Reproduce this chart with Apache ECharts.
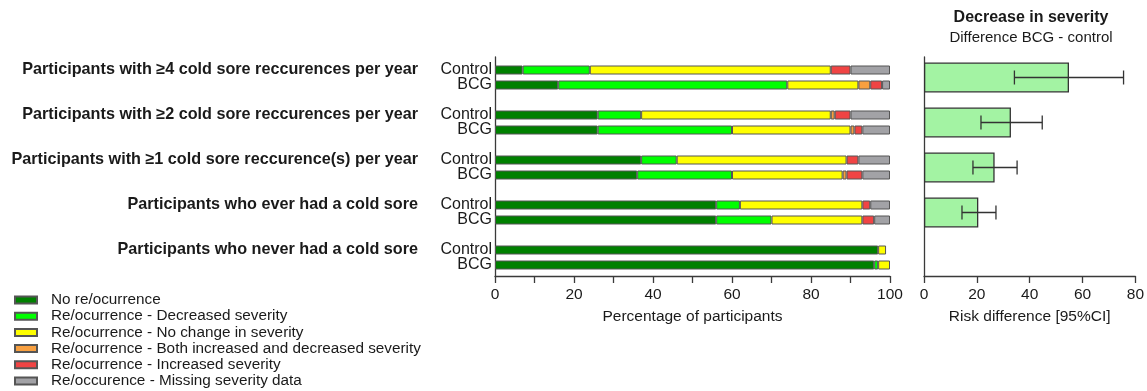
<!DOCTYPE html>
<html>
<head>
<meta charset="utf-8">
<title>Cold sore recurrence and severity: BCG vs control</title>
<script src="https://cdn.jsdelivr.net/npm/echarts@6/dist/echarts.min.js"></script>
<style>
  html, body { margin: 0; padding: 0; background: #fff; }
  #chart { width: 1147px; height: 391px; }
</style>
</head>
<body>
<div id="chart"></div>
<script>
// ---- Data -------------------------------------------------------------
const groups = [
  'Participants with ≥4 cold sore reccurences per year',
  'Participants with ≥2 cold sore reccurences per year',
  'Participants with ≥1 cold sore reccurence(s) per year',
  'Participants who ever had a cold sore',
  'Participants who never had a cold sore'
];
const arms = ['Control', 'BCG'];
const outcomes = [
  'No re/ocurrence',
  'Re/ocurrence - Decreased severity',
  'Re/ocurrence - No change in severity',
  'Re/ocurrence - Both increased and decreased severity',
  'Re/ocurrence - Increased severity',
  'Re/occurence - Missing severity data'
];

// Percentage of participants per outcome, one value per group
const noRecurControl    = [7, 26, 37, 56, 97];
const noRecurBCG        = [16, 26, 36, 56, 96];
const decreasedControl  = [17, 11, 9, 6, 0];
const decreasedBCG      = [58, 34, 24, 14, 1];
const noChangeControl   = [61, 48, 43, 31, 2];
const noChangeBCG       = [18, 30, 28, 23, 3];
const bothControl       = [0, 1, 0, 0, 0];
const bothBCG           = [3, 1, 1, 0, 0];
const increasedControl  = [5, 4, 3, 2, 0];
const increasedBCG      = [3, 2, 4, 3, 0];
const missingControl    = [10, 10, 8, 5, 0];
const missingBCG        = [2, 7, 7, 4, 0];

// Risk difference (BCG - control) in decreased severity, with 95% CI
const riskDiff = [54.2, 32.5, 26.4, 20.3, null];
const ciLow    = [33.8, 21.3, 18.3, 14.2, null];
const ciHigh   = [74.6, 44.2, 34.8, 26.9, null];

const xTicksLeft  = { min: 0, max: 100, step: 10, labelStep: 20 };
const xTicksRight = { min: 0, max: 80, step: 20 };

// ---- Styling ----------------------------------------------------------
const FONT = "'Liberation Sans', Arial, Helvetica, sans-serif";
const INK = '#1a1a1a';
const AXIS = '#3a3a3a';
const outcomeColors = ['#008000', '#00ff00', '#ffff00', '#f8a040', '#f04444', '#a2a2a6'];

const perOutcome = [
  [noRecurControl, noRecurBCG],
  [decreasedControl, decreasedBCG],
  [noChangeControl, noChangeBCG],
  [bothControl, bothBCG],
  [increasedControl, increasedBCG],
  [missingControl, missingBCG]
];

// Row layout: Control, BCG, then a blank spacer between groups
const rowKeys = [];
groups.forEach((g, gi) => {
  arms.forEach((a) => rowKeys.push(a + '|' + gi));
  if (gi < groups.length - 1) rowKeys.push('gap|' + gi);
});

function rowValues(pair) {
  return rowKeys.map((k) => {
    const [arm, gi] = k.split('|');
    const ai = arms.indexOf(arm);
    if (ai < 0) return null;
    const v = pair[ai][+gi];
    return v === 0 ? null : v;
  });
}

const barSeries = outcomes.map((name, oi) => ({
  name: name,
  type: 'bar',
  xAxisIndex: 1,
  yAxisIndex: 1,
  stack: 'share',
  barWidth: 9,
  itemStyle: { color: outcomeColors[oi], borderColor: '#555', borderWidth: 1 },
  emphasis: { disabled: true },
  data: rowValues(perOutcome[oi])
}));

const axisLineStyle = { lineStyle: { color: AXIS, width: 1.3 } };

const option = {
  animation: false,
  textStyle: { fontFamily: FONT, color: INK },
  title: {
    text: 'Decrease in severity',
    subtext: 'Difference BCG - control',
    left: 1031,
    top: 10,
    padding: 0,
    itemGap: 4,
    textAlign: 'center',
    textStyle: { fontFamily: FONT, fontSize: 16, fontWeight: 'bold', color: INK },
    subtextStyle: { fontFamily: FONT, fontSize: 15, color: INK }
  },
  legend: {
    data: outcomes,
    orient: 'vertical',
    left: 14,
    top: 292.5,
    padding: 0,
    itemWidth: 22,
    itemHeight: 7,
    itemGap: 1.2,
    icon: 'rect',
    textStyle: { fontFamily: FONT, fontSize: 15.3, color: INK, padding: [0, 0, 0, 9] }
  },
  grid: [
    // left frame (axes only)
    { left: 495, top: 57, width: 395, height: 219 },
    // left bars
    { left: 495, top: 62.5, width: 395, height: 210 },
    // right frame (axes only)
    { left: 924, top: 57, width: 214, height: 219 },
    // right bars
    { left: 924, top: 55, width: 214, height: 225 }
  ],
  xAxis: [
    {
      gridIndex: 0, type: 'value',
      min: xTicksLeft.min, max: xTicksLeft.max, interval: xTicksLeft.step,
      name: 'Percentage of participants', nameLocation: 'middle', nameGap: 33,
      nameTextStyle: { fontFamily: FONT, fontSize: 15.5, color: INK },
      axisLine: axisLineStyle,
      axisTick: { show: true, length: 7, lineStyle: { color: AXIS, width: 1.3 } },
      axisLabel: {
        margin: 11, fontFamily: FONT, fontSize: 15.5, color: INK,
        formatter: (v) => (v % xTicksLeft.labelStep === 0 ? String(v) : '')
      },
      splitLine: { show: false }
    },
    { gridIndex: 1, type: 'value', min: xTicksLeft.min, max: xTicksLeft.max, show: false },
    {
      gridIndex: 2, type: 'value',
      min: xTicksRight.min, max: xTicksRight.max, interval: xTicksRight.step,
      name: 'Risk difference [95%CI]', nameLocation: 'middle', nameGap: 33,
      nameTextStyle: { fontFamily: FONT, fontSize: 15.5, color: INK },
      axisLine: axisLineStyle,
      axisTick: { show: true, length: 7, lineStyle: { color: AXIS, width: 1.3 } },
      axisLabel: { margin: 11, fontFamily: FONT, fontSize: 15.5, color: INK },
      splitLine: { show: false }
    },
    { gridIndex: 3, type: 'value', min: xTicksRight.min, max: xTicksRight.max, show: false }
  ],
  yAxis: [
    {
      gridIndex: 0, type: 'value', min: 0, max: 1,
      axisLine: { show: true, lineStyle: { color: AXIS, width: 1.3 } },
      axisTick: { show: false }, axisLabel: { show: false }, splitLine: { show: false }
    },
    {
      gridIndex: 1, type: 'category', data: rowKeys, inverse: true,
      axisLine: { show: false }, axisTick: { show: false },
      axisLabel: {
        interval: 0, margin: 3, fontFamily: FONT, fontSize: 16, color: INK,
        formatter: (k) => { const a = k.split('|')[0]; return arms.includes(a) ? a : ''; }
      }
    },
    {
      gridIndex: 1, type: 'category', data: rowKeys, inverse: true,
      position: 'left', offset: 73,
      axisLine: { show: false }, axisTick: { show: false },
      axisLabel: {
        interval: 0, margin: 4, fontFamily: FONT, fontSize: 16.2, fontWeight: 'bold', color: INK,
        formatter: (k) => { const [a, gi] = k.split('|'); return a === arms[0] ? groups[+gi] : ''; }
      }
    },
    {
      gridIndex: 2, type: 'value', min: 0, max: 1,
      axisLine: { show: true, lineStyle: { color: AXIS, width: 1.3 } },
      axisTick: { show: false }, axisLabel: { show: false }, splitLine: { show: false }
    },
    {
      gridIndex: 3, type: 'category', data: groups, inverse: true, show: false
    }
  ],
  series: [
    ...barSeries,
    {
      name: 'Risk difference',
      type: 'bar',
      xAxisIndex: 3,
      yAxisIndex: 4,
      barWidth: 30,
      itemStyle: { color: '#a3f3a3', borderColor: '#333', borderWidth: 1.3 },
      emphasis: { disabled: true },
      data: riskDiff
    },
    {
      name: '95% CI',
      type: 'custom',
      xAxisIndex: 3,
      yAxisIndex: 4,
      z: 5,
      encode: { x: [0, 1], y: 2 },
      data: ciLow.map((lo, i) => (lo == null ? null : [lo, ciHigh[i], i])).filter((d) => d),
      renderItem: (params, api) => {
        const y = api.value(2);
        const p0 = api.coord([api.value(0), y]);
        const p1 = api.coord([api.value(1), y]);
        const cap = 7;
        const st = { stroke: '#333', lineWidth: 1.3 };
        return {
          type: 'group',
          children: [
            { type: 'line', shape: { x1: p0[0], y1: p0[1], x2: p1[0], y2: p1[1] }, style: st },
            { type: 'line', shape: { x1: p0[0], y1: p0[1] - cap, x2: p0[0], y2: p0[1] + cap }, style: st },
            { type: 'line', shape: { x1: p1[0], y1: p1[1] - cap, x2: p1[0], y2: p1[1] + cap }, style: st }
          ]
        };
      }
    }
  ]
};

const chart = echarts.init(document.getElementById('chart'), null, { renderer: 'canvas' });
chart.setOption(option);
</script>
</body>
</html>
